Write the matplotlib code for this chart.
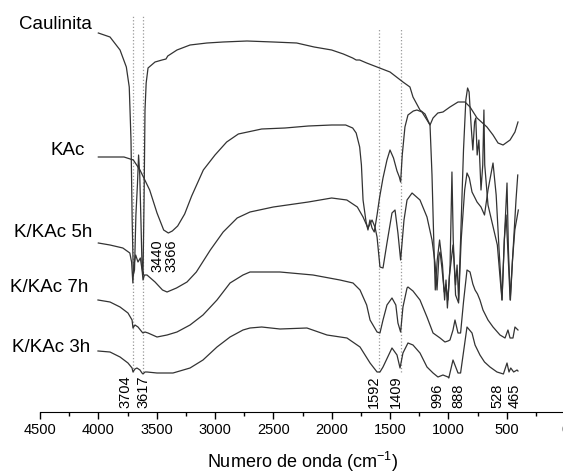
import numpy as np
import matplotlib
matplotlib.use('Agg')
import matplotlib.pyplot as plt
from matplotlib.ticker import MultipleLocator

# Arial-like text everywhere, also inside the superscript
plt.rcParams['font.family'] = 'Liberation Sans'
plt.rcParams['mathtext.fontset'] = 'custom'
plt.rcParams['mathtext.rm'] = 'Liberation Sans'

# Spectra: wavenumber (cm-1) and transmittance (a.u., stacked)
caul_wn = [4000, 3900, 3814, 3760, 3735, 3720, 3710, 3700, 3690, 3678, 3665, 3655, 3645, 3635,
           3625, 3617, 3608, 3600, 3590, 3574, 3514, 3454, 3420, 3405, 3326, 3214, 3069, 2931,
           2726, 2500, 2300, 2150, 2000, 1900, 1820, 1790, 1760, 1700, 1611, 1500, 1389, 1329,
           1303, 1243, 1200, 1157, 1140, 1125, 1112, 1095, 1075, 1050, 1032, 1020, 1008, 990,
           960, 938, 925, 912, 895, 870, 850, 835, 822, 805, 790, 775, 765, 753, 738, 720, 705,
           695, 688, 660, 620, 580, 555, 540, 520, 505, 490, 470, 450, 430, 400]
caul_t = [379, 375, 362, 345, 325, 272, 192, 137, 142, 197, 227, 257, 237, 192,
          144, 137, 212, 302, 329, 344, 350, 352, 353, 356, 362, 367, 369, 370,
          371, 370, 369, 365, 362, 358, 354, 352, 352, 349, 345, 340, 330, 325,
          315, 302, 298, 287, 237, 172, 122, 152, 172, 147, 112, 132, 104, 137,
          167, 127, 147, 112, 172, 262, 312, 324, 320, 287, 262, 290, 294, 257, 272, 222, 247,
          302, 247, 207, 187, 167, 132, 112, 172, 197, 162, 112, 152, 182, 202]

kac_wn = [4000, 3780, 3700, 3643, 3560, 3497, 3440, 3400, 3366, 3320, 3260, 3200, 3100, 3000,
          2900, 2800, 2600, 2400, 2200, 2000, 1880, 1820, 1790, 1760, 1745, 1731, 1705, 1689,
          1672, 1654, 1635, 1611, 1590, 1560, 1526, 1500, 1470, 1440, 1420, 1409, 1395, 1372,
          1346, 1300, 1269, 1226, 1183, 1157, 1131, 1090, 1046, 986, 917, 857, 814, 754, 669,
          617, 574, 531, 471, 429, 403]
kac_t = [255, 255, 252, 242, 222, 199, 182, 179, 181, 186, 198, 216, 242, 257,
         270, 278, 283, 284, 286, 287, 287, 284, 279, 265, 247, 212, 190, 182,
         192, 184, 180, 197, 214, 234, 252, 262, 254, 241, 235, 230, 257, 285,
         297, 301, 302, 300, 292, 287, 294, 299, 300, 305, 310, 310, 305, 294, 285,
         277, 269, 267, 272, 280, 290]

k5h_wn = [4000, 3900, 3790, 3730, 3715, 3704, 3695, 3680, 3660, 3640, 3625, 3617, 3605, 3583,
          3514, 3450, 3411, 3330, 3240, 3160, 3040, 2930, 2810, 2700, 2500, 2200, 2000, 1870,
          1780, 1731, 1689, 1654, 1629, 1611, 1586, 1560, 1526, 1483, 1457, 1432, 1409, 1380,
          1354, 1311, 1243, 1183, 1140, 1114, 1097, 1080, 1071, 1055, 1035, 1020, 1003, 985,
          969, 958, 938, 912, 890, 860, 840, 820, 797, 771, 754, 720, 690, 660, 617, 590, 565,
          540, 520, 497, 485, 468, 450, 420, 405]
k5h_t = [169, 167, 164, 159, 150, 129, 147, 157, 150, 154, 142, 132, 137, 137,
         130, 122, 120, 124, 130, 140, 162, 180, 194, 200, 205, 210, 214, 212,
         205, 195, 184, 192, 185, 175, 145, 144, 169, 199, 202, 179, 152, 192,
         212, 219, 212, 195, 172, 149, 122, 157, 160, 144, 120, 127, 112, 147,
         240, 172, 117, 109, 172, 222, 239, 234, 220, 214, 210, 205, 197, 222, 249, 217, 162,
         112, 172, 229, 162, 112, 152, 212, 237]

k7h_wn = [4003, 3900, 3814, 3746, 3711, 3703, 3686, 3660, 3626, 3617, 3600, 3574, 3497, 3411,
          3326, 3214, 3103, 2983, 2871, 2760, 2700, 2443, 2160, 1929, 1817, 1757, 1700, 1671,
          1611, 1586, 1560, 1526, 1483, 1450, 1432, 1409, 1389, 1354, 1346, 1303, 1243, 1183,
          1131, 1071, 1029, 1003, 986, 960, 943, 917, 895, 870, 840, 814, 790, 771, 750, 729,
          703, 660, 617, 557, 514, 489, 471, 446, 429, 403]
k7h_t = [112, 110, 105, 99, 92, 84, 87, 85, 80, 79, 80, 79, 75, 77,
         80, 87, 97, 112, 129, 137, 140, 140, 137, 132, 129, 122, 107, 92,
         80, 79, 92, 107, 114, 107, 89, 80, 105, 124, 125, 121, 112, 95,
         79, 74, 70, 71, 72, 82, 92, 79, 79, 110, 142, 140, 128, 122, 118, 112,
         102, 92, 85, 77, 74, 82, 74, 74, 85, 82]

k3h_wn = [4003, 3900, 3814, 3746, 3711, 3703, 3686, 3669, 3643, 3626, 3617, 3600, 3583, 3497,
          3360, 3214, 3103, 2983, 2871, 2760, 2700, 2600, 2443, 2212, 2040, 1869, 1757, 1671,
          1611, 1586, 1560, 1483, 1440, 1414, 1389, 1346, 1303, 1243, 1183, 1131, 1089, 1046,
          1003, 996, 960, 917, 895, 840, 797, 771, 750, 729, 690, 643, 583, 528, 497, 480, 465,
          440, 411, 403]
k3h_t = [61, 60, 55, 49, 44, 40, 43, 44, 42, 39, 38, 40, 40, 39,
         39, 44, 52, 65, 75, 82, 84, 85, 83, 84, 77, 74, 65, 49,
         40, 40, 45, 64, 57, 44, 59, 69, 67, 59, 45, 39, 35, 37,
         35, 34, 52, 39, 39, 85, 79, 67, 62, 57, 50, 45, 40, 38, 49, 40, 44,
         40, 42, 41]

names = ['Caulinita', 'KAc', 'K/KAc 5h', 'K/KAc 7h', 'K/KAc 3h']
spectra = [(caul_wn, caul_t), (kac_wn, kac_t), (k5h_wn, k5h_t), (k7h_wn, k7h_t), (k3h_wn, k3h_t)]
# where each name sits (wavenumber of its right edge, height)
name_x = [4055, 4115, 4055, 4088, 4071]
name_y = [388, 262, 180, 125, 65]

# bands marked with dotted lines
band_lines = [3704, 3617, 1592, 1409]
line_top = [397, 397, 384, 384]

# band labels, written vertically: text, centre (cm-1), bottom height
band_labels = ['3704', '3617', '3440', '3366', '1592', '1409', '996', '888', '528', '465']
band_label_x = [3770, 3609, 3497, 3377, 1637, 1449, 1097, 917, 583, 429]
band_label_y = [4, 4, 140, 140, 4, 4, 4, 4, 4, 4]

fig = plt.figure(figsize=(5.63, 4.74), dpi=100)
ax = fig.add_axes([40 / 563, 62 / 474, 525 / 563, 412 / 474])

# dotted guide lines first so the spectra draw over them
for wn, top in zip(band_lines, line_top):
    ax.plot([wn, wn], [40, top], color='#999999', linestyle=':', linewidth=0.9)

for (wn, t) in spectra:
    ax.plot(wn, t, color='#333333', linewidth=0.9)

for name, x, y in zip(names, name_x, name_y):
    ax.text(x, y, name, ha='right', va='center', fontsize=13.5)

for lab, x, y in zip(band_labels, band_label_x, band_label_y):
    ax.text(x, y, lab, rotation=90, ha='center', va='bottom', fontsize=10.5)

ax.set_xlim(4500, 0)
ax.set_ylim(0, 412)
ax.set_xticks(np.arange(0, 4501, 500))
ax.xaxis.set_minor_locator(MultipleLocator(250))
ax.tick_params(axis='x', which='major', direction='out', length=5, width=1, labelsize=10.5, pad=3)
ax.tick_params(axis='x', which='minor', direction='out', length=3, width=1)
ax.set_yticks([])
for side in ['top', 'left', 'right']:
    ax.spines[side].set_visible(False)
ax.set_xlabel('Numero de onda (cm$^{-1}$)', fontsize=13, labelpad=9)

fig.savefig('out.png', dpi=100)
